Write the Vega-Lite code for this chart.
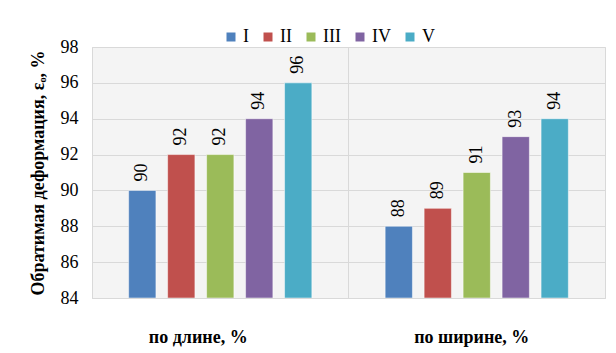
{
  "$schema": "https://vega.github.io/schema/vega-lite/v6.json",
  "autosize": "none",
  "width": 513,
  "height": 251,
  "padding": {"left": 92, "top": 47, "right": 11, "bottom": 55},
  "background": "white",
  "data": {
    "values": [
      {"cat": "по длине, %", "series": "I", "value": 90},
      {"cat": "по длине, %", "series": "II", "value": 92},
      {"cat": "по длине, %", "series": "III", "value": 92},
      {"cat": "по длине, %", "series": "IV", "value": 94},
      {"cat": "по длине, %", "series": "V", "value": 96},
      {"cat": "по ширине, %", "series": "I", "value": 88},
      {"cat": "по ширине, %", "series": "II", "value": 89},
      {"cat": "по ширине, %", "series": "III", "value": 91},
      {"cat": "по ширине, %", "series": "IV", "value": 93},
      {"cat": "по ширине, %", "series": "V", "value": 94}
    ]
  },
  "encoding": {
    "x": {
      "field": "cat",
      "type": "nominal",
      "sort": null,
      "scale": {"paddingInner": 0, "paddingOuter": 0},
      "axis": {
        "title": null,
        "labelAngle": 0,
        "labelFontWeight": "bold",
        "labelFontSize": 18,
        "labelColor": "black",
        "labelPadding": 30,
        "labelOffset": {"expr": "datum.value === 'по длине, %' ? -22 : -5"},
        "ticks": false,
        "domainColor": "#d9d9d9",
        "grid": true,
        "bandPosition": 0,
        "gridColor": "#d9d9d9"
      }
    },
    "xOffset": {
      "field": "series",
      "type": "nominal",
      "sort": null,
      "scale": {"paddingInner": 0.3, "paddingOuter": 0.94}
    },
    "y": {
      "field": "value",
      "type": "quantitative",
      "scale": {"domain": [84, 98], "nice": false, "zero": false},
      "axis": {
        "values": [84, 86, 88, 90, 92, 94, 96, 98],
        "title": "Обратимая деформация, εₒ, %",
        "titleFontSize": 18,
        "titleFontWeight": "bold",
        "titleColor": "black",
        "titlePadding": 13,
        "labelFontSize": 18,
        "labelColor": "black",
        "labelPadding": 14,
        "ticks": false,
        "domain": false,
        "gridColor": "#d9d9d9"
      }
    }
  },
  "layer": [
    {
      "mark": {"type": "bar", "clip": true, "stroke": "white", "strokeWidth": 0.5},
      "encoding": {
        "y2": {"datum": 84},
        "color": {
          "field": "series",
          "type": "nominal",
          "sort": null,
          "scale": {
            "domain": ["I", "II", "III", "IV", "V"],
            "range": ["#4f81bd", "#c0504d", "#9bbb59", "#8064a2", "#4bacc6"]
          },
          "legend": {
            "title": null,
            "orient": "none",
            "direction": "horizontal",
            "legendX": 130,
            "legendY": -19,
            "padding": 0,
            "symbolType": "square",
            "symbolSize": 81,
            "symbolStrokeWidth": 0,
            "labelFontSize": 18,
            "labelColor": "black",
            "labelOffset": 3,
            "columnPadding": 10
          }
        }
      }
    },
    {
      "mark": {
        "type": "text",
        "angle": 270,
        "align": "left",
        "baseline": "middle",
        "dx": 9,
        "fontSize": 18,
        "color": "black"
      },
      "encoding": {
        "text": {"field": "value", "type": "quantitative"}
      }
    }
  ],
  "config": {
    "font": "Liberation Serif",
    "axis": {"labelFont": "Liberation Serif", "titleFont": "Liberation Serif"},
    "legend": {"labelFont": "Liberation Serif"},
    "text": {"font": "Liberation Serif"},
    "view": {"fill": "#f4f4f4", "stroke": "#d9d9d9"}
  }
}
